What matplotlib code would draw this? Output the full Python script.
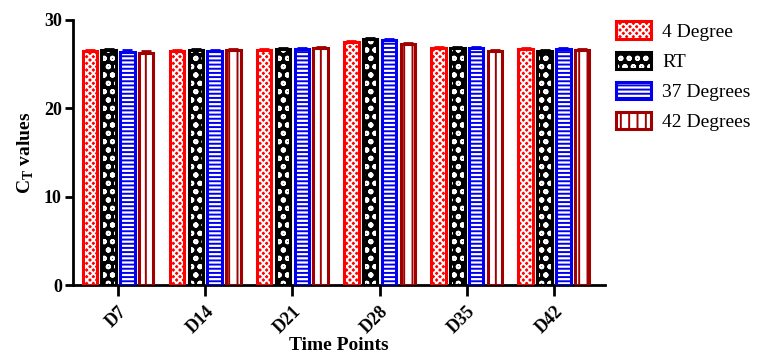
import matplotlib.pyplot as plt
import numpy as np
from matplotlib.legend_handler import HandlerTuple

plt.rcParams['font.family'] = ['Liberation Serif', 'DejaVu Serif']
plt.rcParams['mathtext.fontset'] = 'custom'
plt.rcParams['mathtext.rm'] = 'Liberation Serif'
plt.rcParams['hatch.linewidth'] = 1.4

time_points = ['D7', 'D14', 'D21', 'D28', 'D35', 'D42']
series = ['4 Degree', 'RT', '37 Degrees', '42 Degrees']
deg4 = [26.5, 26.5, 26.6, 27.5, 26.8, 26.7]
rt = [26.6, 26.6, 26.7, 27.8, 26.8, 26.5]
deg37 = [26.4, 26.5, 26.7, 27.7, 26.8, 26.7]
deg42 = [26.3, 26.6, 26.8, 27.3, 26.5, 26.6]
errs = [0.15, 0.15, 0.15, 0.15]

# face, hatch colour, hatch, outline
styles = [
    ('#ff0000', 'white', 'xxxxx', '#ff0000'),
    ('black', 'white', 'oo', 'black'),
    ('white', '#0000ee', '----', '#0000ee'),
    ('white', '#a00000', '||', '#a00000'),
]

fig = plt.figure(figsize=(7.66, 3.61), dpi=100)
ax = fig.add_axes([73/766, 1-285/361, (605-73)/766, (285-20)/361])

x = np.arange(len(time_points))
width = 0.166
pitch = 0.216
handles = []
for i, (vals, st) in enumerate(zip([deg4, rt, deg37, deg42], styles)):
    face, hcol, hatch, edge = st
    pos = x + (i - 1.5) * pitch
    ax.errorbar(pos, vals, yerr=errs[i], fmt='none', ecolor=edge,
                elinewidth=2, capsize=3.5, capthick=2, zorder=1)
    b1 = ax.bar(pos, vals, width, color=face, edgecolor=hcol, hatch=hatch,
                linewidth=0, zorder=2)
    b2 = ax.bar(pos, vals, width, fill=False, edgecolor=edge,
                linewidth=2.2, zorder=3)
    handles.append((b1[0], b2[0]))

ax.set_ylim(0, 30)
ax.set_xlim(-0.516, 5.585)
ax.set_yticks([0, 10, 20, 30])
ax.set_xticks(x)
ax.set_xticklabels(time_points, rotation=45, ha='right', rotation_mode='anchor',
                   fontsize=13, fontweight='bold')
for lbl in ax.get_yticklabels():
    lbl.set_fontsize(13)
    lbl.set_fontweight('bold')
ax.spines['top'].set_visible(False)
ax.spines['right'].set_visible(False)
ax.spines['left'].set_linewidth(2)
ax.spines['bottom'].set_linewidth(2)
ax.tick_params(axis='y', width=2, length=6, pad=2)
ax.tick_params(axis='x', width=2, length=8, pad=5)

ax.set_xlabel('Time Points', fontsize=14, fontweight='bold', labelpad=0)
ax.set_ylabel(r'C$_\mathregular{T}$ values', fontsize=14, fontweight='bold', labelpad=6)

fig.legend(handles, series, handler_map={tuple: HandlerTuple(ndivide=1, pad=0)},
           loc='upper left', bbox_to_anchor=(598/766, 1-4/361), frameon=False,
           fontsize=14, handlelength=1.8, handleheight=1.0, labelspacing=0.55,
           handletextpad=0.6)

fig.savefig('out.png', dpi=100)
